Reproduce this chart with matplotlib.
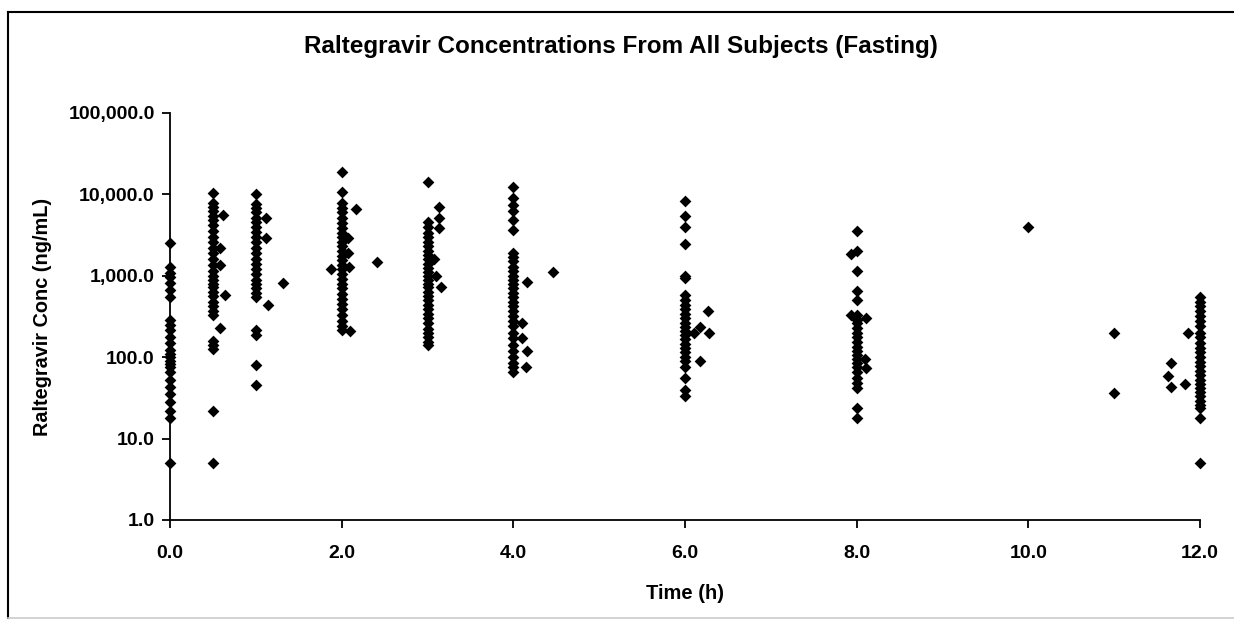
import matplotlib
matplotlib.use('Agg')
import matplotlib.pyplot as plt
from matplotlib.ticker import FixedLocator, FixedFormatter
from matplotlib.lines import Line2D

plt.rcParams['font.family'] = ['Liberation Sans', 'DejaVu Sans']
plt.rcParams['font.weight'] = 'bold'

# concentrations (ng/mL) at nominal sampling times
conc_0h = [2500, 1290, 1080, 960, 810, 670, 550, 290, 250, 215, 178, 150, 123, 110,
           100, 90, 82, 76, 65, 52, 43, 35, 28, 22, 18, 5]
conc_05h = [10500, 7800, 7000, 6200, 5500, 4800, 4200, 3600, 3000, 2600, 2200, 1900,
            1600, 1350, 1150, 1000, 900, 800, 720, 640, 560, 480, 420, 370, 330,
            160, 140, 125, 22, 5]
conc_1h = [10000, 7600, 6800, 6000, 5200, 4600, 4000, 3500, 3000, 2600, 2200, 1900,
           1600, 1400, 1200, 1050, 900, 800, 700, 620, 550, 215, 190, 80, 45]
conc_2h = [18800, 10700, 7800, 6800, 6000, 5200, 4500, 3900, 3400, 3000, 2600, 2300,
           2000, 1750, 1550, 1350, 1200, 1050, 920, 800, 700, 600, 520, 450, 390,
           330, 280, 240, 215]
conc_3h = [14200, 4600, 4000, 3400, 3000, 2600, 2300, 2000, 1800, 1600, 1400, 1250,
           1100, 1000, 900, 800, 720, 640, 570, 500, 440, 390, 340, 300, 260, 225,
           200, 175, 155, 140]
conc_4h = [12300, 9000, 7500, 6200, 4800, 3700, 1900, 1700, 1500, 1300, 1150, 1000,
           900, 800, 700, 620, 550, 480, 420, 370, 320, 280, 240, 200, 170, 140,
           120, 100, 85, 75, 66]
conc_6h = [8300, 5400, 4000, 2450, 1000, 950, 580, 500, 440, 390, 340, 300, 265, 235,
           210, 185, 165, 145, 130, 115, 100, 90, 76, 55, 40, 33]
conc_8h = [3550, 2000, 1150, 650, 500, 330, 290, 260, 230, 200, 175, 155, 135, 120,
           105, 95, 85, 75, 65, 55, 48, 42, 24, 18]
conc_10h = [4000]
conc_11h = [200, 36]
conc_12h = [550, 480, 420, 370, 320, 280, 240, 200, 175, 150, 130, 115, 100, 88, 78,
            68, 60, 53, 47, 42, 37, 33, 29, 26, 24, 18, 5]

nominal_times = [0.0, 0.5, 1.0, 2.0, 3.0, 4.0, 6.0, 8.0, 10.0, 11.0, 12.0]
nominal_conc = [conc_0h, conc_05h, conc_1h, conc_2h, conc_3h, conc_4h, conc_6h,
                conc_8h, conc_10h, conc_11h, conc_12h]

# samples taken off the nominal time
off_time = [0.62, 0.58, 0.58, 0.64, 0.58, 1.12, 1.12, 1.14, 1.32,
            2.17, 2.07, 2.07, 2.09, 2.41, 1.87, 2.1,
            3.13, 3.13, 3.13, 3.07, 3.1, 3.16,
            4.16, 4.16, 4.1, 4.1, 4.15, 4.46,
            6.27, 6.17, 6.28, 6.1, 6.17,
            7.93, 8.11, 8.11, 7.93, 8.1,
            11.66, 11.66, 11.63, 11.83, 11.86]
off_conc = [5600, 2200, 1350, 580, 230, 5100, 2900, 440, 810,
            6600, 2900, 1900, 1290, 1470, 1200, 210,
            7000, 5100, 3900, 1600, 1000, 730,
            840, 120, 260, 170, 76, 1100,
            370, 235, 200, 200, 90,
            1860, 300, 74, 330, 95,
            85, 43, 58, 47, 200]

x_ticks = [0, 2, 4, 6, 8, 10, 12]
y_ticks = [1, 10, 100, 1000, 10000, 100000]
y_tick_labels = ['1.0', '10.0', '100.0', '1,000.0', '10,000.0', '100,000.0']

fig = plt.figure(figsize=(12.34, 6.22), dpi=100)
ax = fig.add_axes([170/1234, 1 - 520/622, 1030/1234, 407/622])

xs, ys = [], []
for t, cs in zip(nominal_times, nominal_conc):
    xs += [t]*len(cs)
    ys += cs
xs += off_time
ys += off_conc
ax.scatter(xs, ys, marker='D', s=36, color='black', linewidths=0, zorder=3, clip_on=False)

ax.set_yscale('log')
ax.set_xlim(0, 12)
ax.set_ylim(1, 100000)
ax.xaxis.set_major_locator(FixedLocator(x_ticks))
ax.set_xticklabels([f'{t:.1f}' for t in x_ticks])
ax.yaxis.set_major_locator(FixedLocator(y_ticks))
ax.yaxis.set_major_formatter(FixedFormatter(y_tick_labels))
ax.yaxis.set_minor_locator(FixedLocator([]))
ax.tick_params(direction='out', length=6, width=1.3, colors='black', labelsize=14, pad=5)
ax.tick_params(axis='x', pad=12)
for s in ['top', 'right']:
    ax.spines[s].set_visible(False)
for s in ['left', 'bottom']:
    ax.spines[s].set_linewidth(1.3)
ax.patch.set_alpha(0)

ax.set_xlabel('Time (h)', fontsize=14.5, fontweight='bold', labelpad=16)
ax.set_ylabel('Raltegravir Conc (ng/mL)', fontsize=14.3, fontweight='bold', labelpad=12)
fig.text(0.503, 1 - 47/622, 'Raltegravir Concentrations From All Subjects (Fasting)',
         ha='center', va='center', fontsize=17.5, fontweight='bold')

# outer chart frame
fig.add_artist(Line2D([8/1234, 8/1234], [1 - 12/622, 1 - 618/622], color='black', lw=1.5))
fig.add_artist(Line2D([8/1234, 1], [1 - 12/622, 1 - 12/622], color='black', lw=1.5))
fig.add_artist(Line2D([8/1234, 1], [1 - 618/622, 1 - 618/622], color='#cccccc', lw=1.2))

fig.savefig('out.png', dpi=100)
